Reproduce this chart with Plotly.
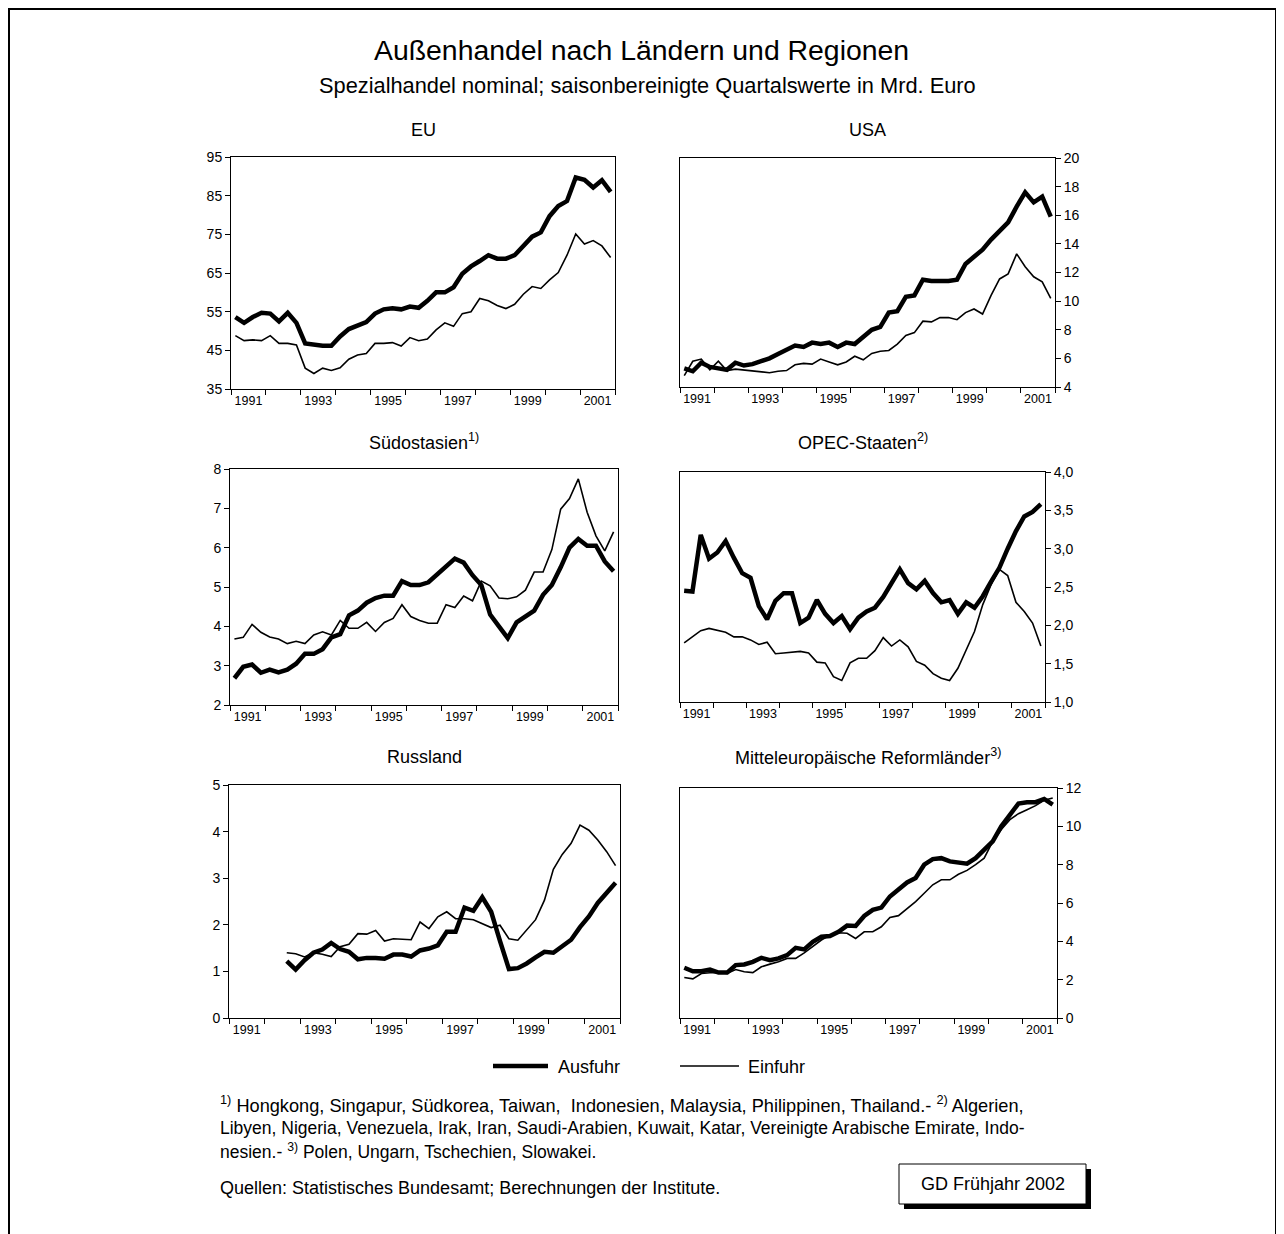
import plotly.graph_objects as go

# page is placed with an 8px body margin; figure is sized to end at the window edge
OX, OY = 8, 8
W, H = 1284 - OX, 1234 - OY
FONT = "Liberation Sans, Arial, sans-serif"

# ---------------- data (Mrd. Euro, saisonbereinigte Quartalswerte) ----------------
years = list(range(1991, 2002))
quarters = [1, 2, 3, 4]
label_years = [1991, 1993, 1995, 1997, 1999, 2001]

eu_ausfuhr = [53.6, 52.1, 53.6, 54.7, 54.5, 52.5, 54.7, 52.1, 46.8, 46.4, 46.2, 46.2,
              48.6, 50.5, 51.4, 52.3, 54.5, 55.6, 55.9, 55.6, 56.3, 56.0, 57.8, 60.0,
              60.0, 61.3, 64.8, 66.7, 68.1, 69.6, 68.7, 68.7, 69.6, 71.8, 74.4, 75.5,
              79.7, 82.3, 83.6, 89.7, 89.1, 87.1, 89.0, 86.0]
eu_einfuhr = [48.8, 47.5, 47.7, 47.5, 48.8, 46.8, 46.8, 46.4, 40.4, 39.0, 40.4, 39.8,
              40.5, 42.7, 43.8, 44.2, 46.8, 46.8, 47.0, 46.1, 48.3, 47.5, 47.9, 50.3,
              52.1, 51.2, 54.5, 55.0, 58.4, 57.8, 56.6, 55.8, 56.9, 59.5, 61.5, 61.0,
              63.2, 65.1, 69.6, 75.1, 72.5, 73.4, 72.0, 69.0]

usa_ausfuhr = [5.3, 5.1, 5.7, 5.4, 5.3, 5.2, 5.7, 5.5, 5.6, 5.8, 6.0, 6.3,
               6.6, 6.9, 6.8, 7.1, 7.0, 7.1, 6.8, 7.1, 7.0, 7.5, 8.0, 8.2,
               9.2, 9.3, 10.3, 10.4, 11.5, 11.4, 11.4, 11.4, 11.5, 12.6, 13.1, 13.6,
               14.3, 14.9, 15.5, 16.6, 17.6, 16.9, 17.3, 15.9]
usa_einfuhr = [4.8, 5.8, 5.95, 5.2, 5.8, 5.15, 5.25, 5.2, 5.1, 5.05, 5.0, 5.1,
               5.15, 5.55, 5.65, 5.6, 5.95, 5.75, 5.55, 5.75, 6.15, 5.9, 6.35, 6.5,
               6.55, 7.0, 7.6, 7.8, 8.6, 8.55, 8.85, 8.85, 8.7, 9.2, 9.45, 9.1,
               10.4, 11.55, 11.9, 13.3, 12.4, 11.7, 11.35, 10.2]

soa_ausfuhr = [2.68, 2.97, 3.03, 2.82, 2.9, 2.83, 2.9, 3.05, 3.3, 3.3, 3.42, 3.72,
               3.8, 4.28, 4.4, 4.6, 4.72, 4.78, 4.78, 5.15, 5.05, 5.05, 5.12, 5.32,
               5.5, 5.72, 5.62, 5.3, 5.05, 4.3, 4.0, 3.7, 4.1, 4.25, 4.4, 4.8,
               5.05, 5.5, 6.0, 6.22, 6.05, 6.05, 5.65, 5.4]
soa_einfuhr = [3.68, 3.72, 4.05, 3.85, 3.73, 3.68, 3.56, 3.62, 3.56, 3.78, 3.86, 3.78,
               4.15, 3.95, 3.95, 4.1, 3.87, 4.1, 4.2, 4.55, 4.25, 4.15, 4.08, 4.08,
               4.55, 4.48, 4.77, 4.65, 5.15, 5.03, 4.72, 4.7, 4.75, 4.92, 5.38, 5.38,
               5.95, 6.98, 7.25, 7.75, 6.9, 6.3, 5.92, 6.4]

opec_ausfuhr = [2.45, 2.44, 3.18, 2.87, 2.95, 3.1, 2.88, 2.68, 2.62, 2.25, 2.08, 2.32,
                2.42, 2.42, 2.03, 2.1, 2.33, 2.15, 2.03, 2.12, 1.95, 2.1, 2.18, 2.23,
                2.37, 2.55, 2.73, 2.55, 2.47, 2.58, 2.42, 2.3, 2.33, 2.15, 2.3, 2.23,
                2.38, 2.57, 2.75, 3.0, 3.23, 3.42, 3.48, 3.58]
opec_einfuhr = [1.77, 1.85, 1.93, 1.96, 1.93, 1.91, 1.85, 1.85, 1.81, 1.75, 1.78, 1.63,
                1.64, 1.65, 1.66, 1.64, 1.52, 1.51, 1.33, 1.28, 1.51, 1.57, 1.57, 1.67,
                1.84, 1.73, 1.81, 1.72, 1.53, 1.48, 1.37, 1.31, 1.28, 1.44, 1.67, 1.92,
                2.27, 2.53, 2.73, 2.65, 2.3, 2.18, 2.03, 1.73]

rus_ausfuhr = [None, None, None, None, None, None, 1.22, 1.04, 1.24, 1.4, 1.47, 1.61,
               1.48, 1.42, 1.26, 1.29, 1.29, 1.27, 1.36, 1.36, 1.32, 1.45, 1.49, 1.56,
               1.85, 1.85, 2.37, 2.3, 2.59, 2.28, 1.65, 1.05, 1.07, 1.17, 1.3, 1.42,
               1.4, 1.55, 1.68, 1.95, 2.18, 2.47, 2.68, 2.9]
rus_einfuhr = [None, None, None, None, None, None, 1.4, 1.38, 1.31, 1.4, 1.37, 1.32,
               1.53, 1.58, 1.81, 1.8, 1.88, 1.65, 1.7, 1.69, 1.68, 2.06, 1.92, 2.17,
               2.28, 2.13, 2.13, 2.11, 2.03, 1.94, 1.99, 1.7, 1.67, 1.88, 2.11, 2.53,
               3.19, 3.51, 3.75, 4.14, 4.03, 3.82, 3.57, 3.27]

mer_ausfuhr = [2.62, 2.44, 2.44, 2.53, 2.37, 2.37, 2.76, 2.79, 2.93, 3.14, 3.02, 3.11,
               3.28, 3.66, 3.58, 3.98, 4.24, 4.28, 4.5, 4.82, 4.8, 5.32, 5.64, 5.76,
               6.34, 6.68, 7.07, 7.3, 8.0, 8.29, 8.34, 8.17, 8.12, 8.05, 8.34, 8.78,
               9.21, 10.0, 10.6, 11.19, 11.26, 11.26, 11.43, 11.13]
mer_einfuhr = [2.11, 2.04, 2.32, 2.36, 2.36, 2.32, 2.53, 2.41, 2.37, 2.67, 2.81, 2.93,
               3.11, 3.11, 3.4, 3.75, 4.07, 4.33, 4.45, 4.42, 4.15, 4.5, 4.5, 4.76,
               5.25, 5.34, 5.72, 6.07, 6.51, 6.95, 7.21, 7.21, 7.5, 7.7, 8.0, 8.34,
               9.21, 9.83, 10.35, 10.66, 10.87, 11.08, 11.36, 11.48]

eu_ticks = [35, 45, 55, 65, 75, 85, 95]
usa_ticks = [4, 6, 8, 10, 12, 14, 16, 18, 20]
soa_ticks = [2, 3, 4, 5, 6, 7, 8]
opec_ticks = [1.0, 1.5, 2.0, 2.5, 3.0, 3.5, 4.0]
opec_ticktext = ["1,0", "1,5", "2,0", "2,5", "3,0", "3,5", "4,0"]
rus_ticks = [0, 1, 2, 3, 4, 5]
mer_ticks = [0, 2, 4, 6, 8, 10, 12]

# quarter positions: centre of each quarter on a continuous year axis
xq = [y + (q - 0.5) / 4 for y in years for q in quarters]


def px(x):
    return (x - OX) / W


def py(y):
    return 1 - (y - OY) / H


panels = [
    dict(title="EU", aus=eu_ausfuhr, ein=eu_einfuhr, box=(231, 157, 615, 389),
         side="left", tv=eu_ticks, tt=[str(v) for v in eu_ticks], rng=[35, 95], ty=130),
    dict(title="USA", aus=usa_ausfuhr, ein=usa_einfuhr, box=(680, 158, 1055, 387),
         side="right", tv=usa_ticks, tt=[str(v) for v in usa_ticks], rng=[4, 20], ty=130),
    dict(title="Südostasien<sup>1)</sup>", aus=soa_ausfuhr, ein=soa_einfuhr, box=(230, 469, 618, 705),
         side="left", tv=soa_ticks, tt=[str(v) for v in soa_ticks], rng=[2, 8], ty=441),
    dict(title="OPEC-Staaten<sup>2)</sup>", aus=opec_ausfuhr, ein=opec_einfuhr, box=(680, 472, 1045, 702),
         side="right", tv=opec_ticks, tt=opec_ticktext, rng=[1, 4], ty=441),
    dict(title="Russland", aus=rus_ausfuhr, ein=rus_einfuhr, box=(229, 785, 620, 1018),
         side="left", tv=rus_ticks, tt=[str(v) for v in rus_ticks], rng=[0, 5], ty=757),
    dict(title="Mitteleuropäische Reformländer<sup>3)</sup>", aus=mer_ausfuhr, ein=mer_einfuhr,
         box=(680, 788, 1057, 1018), side="right", tv=mer_ticks, tt=[str(v) for v in mer_ticks],
         rng=[0, 12], ty=757),
]

annotations = []
shapes = []
layout_axes = {}
traces = []

for i, p in enumerate(panels, start=1):
    xa = "x" if i == 1 else f"x{i}"
    ya = "y" if i == 1 else f"y{i}"
    x0, y0, x1, y1 = p["box"]
    layout_axes["xaxis" if i == 1 else f"xaxis{i}"] = dict(
        domain=[px(x0), px(x1)], range=[1991, 2002], anchor=ya,
        tickmode="array", tickvals=[y + 0.5 for y in label_years],
        ticktext=[str(y) for y in label_years], ticks="",
        minor=dict(tickmode="array", tickvals=years + [2002], ticks="outside",
                   ticklen=5, tickcolor="black", tickwidth=1, showgrid=False),
        showline=True, linecolor="black", linewidth=1, mirror=True,
        showgrid=False, zeroline=False, fixedrange=True, automargin=False,
        tickfont=dict(family=FONT, size=12.5, color="black"),
    )
    layout_axes["yaxis" if i == 1 else f"yaxis{i}"] = dict(
        domain=[py(y1), py(y0)], range=p["rng"], anchor=xa, side=p["side"],
        tickmode="array", tickvals=p["tv"], ticktext=p["tt"],
        ticks="outside", ticklen=5, tickcolor="black", tickwidth=1,
        showline=True, linecolor="black", linewidth=1, mirror=True,
        showgrid=False, zeroline=False, fixedrange=True, automargin=False,
        tickfont=dict(family=FONT, size=14, color="black"),
    )
    kw = dict(xaxis=xa, yaxis=ya, mode="lines", showlegend=False,
              hoverinfo="skip", connectgaps=False)
    traces.append(go.Scatter(x=xq, y=p["ein"], line=dict(color="black", width=1.6),
                             name="Einfuhr", **kw))
    traces.append(go.Scatter(x=xq, y=p["aus"], line=dict(color="black", width=4.5),
                             name="Ausfuhr", **kw))
    annotations.append(dict(
        text=p["title"], xref="paper", yref="paper", x=px((x0 + x1) / 2), y=py(p["ty"]),
        xanchor="center", yanchor="middle", showarrow=False,
        font=dict(family=FONT, size=18, color="black")))

fig = go.Figure(data=traces)

# titles
annotations.append(dict(text="Außenhandel nach Ländern und Regionen", xref="paper", yref="paper",
                        x=px(641), y=py(50), xanchor="center", yanchor="middle", showarrow=False,
                        font=dict(family=FONT, size=28.4, color="black")))
annotations.append(dict(text="Spezialhandel nominal; saisonbereinigte Quartalswerte in Mrd. Euro",
                        xref="paper", yref="paper", x=px(647), y=py(85), xanchor="center",
                        yanchor="middle", showarrow=False,
                        font=dict(family=FONT, size=21.8, color="black")))

# legend (drawn manually)
shapes.append(dict(type="line", xref="paper", yref="paper", x0=px(493), x1=px(548),
                   y0=py(1066), y1=py(1066), line=dict(color="black", width=4.5)))
shapes.append(dict(type="line", xref="paper", yref="paper", x0=px(680), x1=px(739),
                   y0=py(1066), y1=py(1066), line=dict(color="black", width=1.6)))
annotations.append(dict(text="Ausfuhr", xref="paper", yref="paper", x=px(556), y=py(1067),
                        xanchor="left", yanchor="middle", showarrow=False,
                        font=dict(family=FONT, size=18, color="black")))
annotations.append(dict(text="Einfuhr", xref="paper", yref="paper", x=px(746), y=py(1067),
                        xanchor="left", yanchor="middle", showarrow=False,
                        font=dict(family=FONT, size=18, color="black")))

# footnotes
foot_lines = [
    "<sup>1)</sup> Hongkong, Singapur, Südkorea, Taiwan,  Indonesien, Malaysia, Philippinen, Thailand.- <sup>2)</sup> Algerien,",
    "Libyen, Nigeria, Venezuela, Irak, Iran, Saudi-Arabien, Kuwait, Katar, Vereinigte Arabische Emirate, Indo-",
    "nesien.- <sup>3)</sup> Polen, Ungarn, Tschechien, Slowakei.",
]
foot_size = [18.2, 17.5, 17.5]
foot_y = [1104, 1128, 1151]
for t, s, yy in zip(foot_lines, foot_size, foot_y):
    annotations.append(dict(text=t, xref="paper", yref="paper", x=px(218), y=py(yy),
                            xanchor="left", yanchor="middle", showarrow=False,
                            font=dict(family=FONT, size=s, color="black")))
annotations.append(dict(text="Quellen: Statistisches Bundesamt; Berechnungen der Institute.",
                        xref="paper", yref="paper", x=px(218), y=py(1188), xanchor="left",
                        yanchor="middle", showarrow=False,
                        font=dict(family=FONT, size=18, color="black")))

# GD box with shadow
shapes.append(dict(type="rect", xref="paper", yref="paper", x0=px(904), x1=px(1091),
                   y0=py(1209), y1=py(1169), fillcolor="black", line=dict(width=0)))
shapes.append(dict(type="rect", xref="paper", yref="paper", x0=px(899), x1=px(1086),
                   y0=py(1204), y1=py(1164), fillcolor="white", line=dict(color="black", width=1)))
annotations.append(dict(text="GD Frühjahr 2002", xref="paper", yref="paper", x=px(992.5), y=py(1184),
                        xanchor="center", yanchor="middle", showarrow=False,
                        font=dict(family=FONT, size=18, color="black")))

# page frame
shapes.append(dict(type="rect", xref="paper", yref="paper", x0=px(9), x1=px(1276),
                   y0=-0.05, y1=py(9), line=dict(color="black", width=2), fillcolor="rgba(0,0,0,0)"))

fig.update_layout(
    width=W, height=H, margin=dict(l=0, r=0, t=0, b=0, pad=0, autoexpand=False),
    paper_bgcolor="white", plot_bgcolor="white",
    showlegend=False, annotations=annotations, shapes=shapes,
    font=dict(family=FONT, color="black"),
    **layout_axes,
)

fig.write_html("out.html")
